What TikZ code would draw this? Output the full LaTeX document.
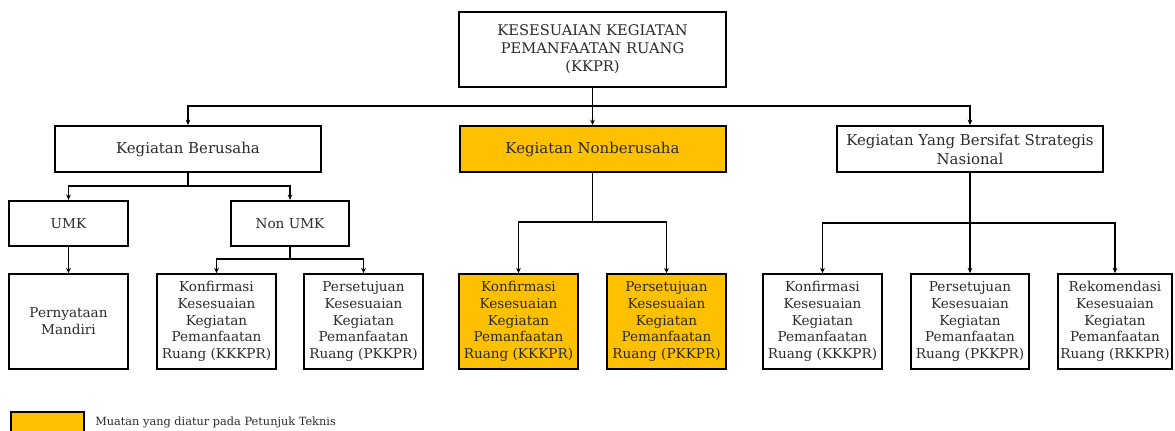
\documentclass[tikz,border=0pt]{standalone}
\usepackage{fontspec}
\setmainfont{DejaVu Serif}
\usetikzlibrary{arrows.meta}
\definecolor{gold}{HTML}{FFC000}
\definecolor{txt}{HTML}{2B2B2B}
\begin{document}
\begin{tikzpicture}[x=0.75pt,y=-0.75pt,
  box/.style={draw=black,line width=1.5pt,fill=white,align=center,text=txt,
    font=\fontsize{10.2}{12.6}\selectfont,inner sep=1pt},
  top/.style={box,minimum width=200pt,minimum height=56pt,font=\fontsize{11}{13.5}\selectfont},
  mid/.style={box,minimum width=199.5pt,minimum height=34.5pt,font=\fontsize{11.2}{14.2}\selectfont},
  sml/.style={box,minimum width=89pt,minimum height=34pt},
  leaf/.style={box,minimum width=89pt,minimum height=71pt},
  hl/.style={fill=gold},
  arr/.style={line width=1.3pt,-{Stealth[length=4pt,width=3.5pt]}},
  ln/.style={line width=1.3pt}]
\useasboundingbox (0,0) rectangle (1175,430);
% nodes
\node[top] (kkpr) at (592.5,49.5) {KESESUAIAN KEGIATAN\\PEMANFAATAN RUANG\\(KKPR)};
\node[mid] (ber) at (188,149) {Kegiatan Berusaha};
\node[mid,hl] (nonb) at (592.5,149) {Kegiatan Nonberusaha};
\node[mid] (str) at (970,149) {Kegiatan Yang Bersifat Strategis\\Nasional};
\node[sml] (umk) at (68.5,223.5) {UMK};
\node[sml] (numk) at (290,223.5) {Non UMK};
\node[leaf] (pm) at (68.5,321.5) {Pernyataan\\Mandiri};
\node[leaf] (k1) at (216.5,321.5) {Konfirmasi\\Kesesuaian\\Kegiatan\\Pemanfaatan\\Ruang (KKKPR)};
\node[leaf] (p1) at (363.5,321.5) {Persetujuan\\Kesesuaian\\Kegiatan\\Pemanfaatan\\Ruang (PKKPR)};
\node[leaf,hl] (k2) at (518.5,321.5) {Konfirmasi\\Kesesuaian\\Kegiatan\\Pemanfaatan\\Ruang (KKKPR)};
\node[leaf,hl] (p2) at (666.5,321.5) {Persetujuan\\Kesesuaian\\Kegiatan\\Pemanfaatan\\Ruang (PKKPR)};
\node[leaf] (k3) at (822.5,321.5) {Konfirmasi\\Kesesuaian\\Kegiatan\\Pemanfaatan\\Ruang (KKKPR)};
\node[leaf] (p3) at (970,321.5) {Persetujuan\\Kesesuaian\\Kegiatan\\Pemanfaatan\\Ruang (PKKPR)};
\node[leaf,minimum width=86pt] (r3) at (1115,321.5) {Rekomendasi\\Kesesuaian\\Kegiatan\\Pemanfaatan\\Ruang (RKKPR)};
% legend
\node[draw=black,line width=1.5pt,fill=gold,minimum width=55pt,minimum height=22pt,anchor=north west,inner sep=0pt] (leg) at (9.5,410.5) {};
\node[anchor=west,text=txt,font=\fontsize{8.5}{10}\selectfont,inner sep=0pt] (legt) at (95,422) {Muatan yang diatur pada Petunjuk Teknis};
% junctions
\coordinate (j0) at (592.5,106);
\coordinate (j1) at (188,186);
\coordinate (j2) at (290,259);
\coordinate (j3) at (592.5,222);
\coordinate (j4) at (970,223);
% connectors
\draw[arr] (kkpr) -- (nonb);
\draw[arr] (j0) -| (ber);
\draw[arr] (j0) -| (str);
\draw[ln] (ber) -- (j1);
\draw[arr] (j1) -| (umk);
\draw[arr] (j1) -| (numk);
\draw[arr] (umk) -- (pm);
\draw[ln] (numk) -- (j2);
\draw[arr] (j2) -| (k1);
\draw[arr] (j2) -| (p1);
\draw[ln] (nonb) -- (j3);
\draw[arr] (j3) -| (k2);
\draw[arr] (j3) -| (p2);
\draw[arr] (str) -- (p3);
\draw[arr] (j4) -| (k3);
\draw[arr] (j4) -| (r3);
\end{tikzpicture}
\end{document}
